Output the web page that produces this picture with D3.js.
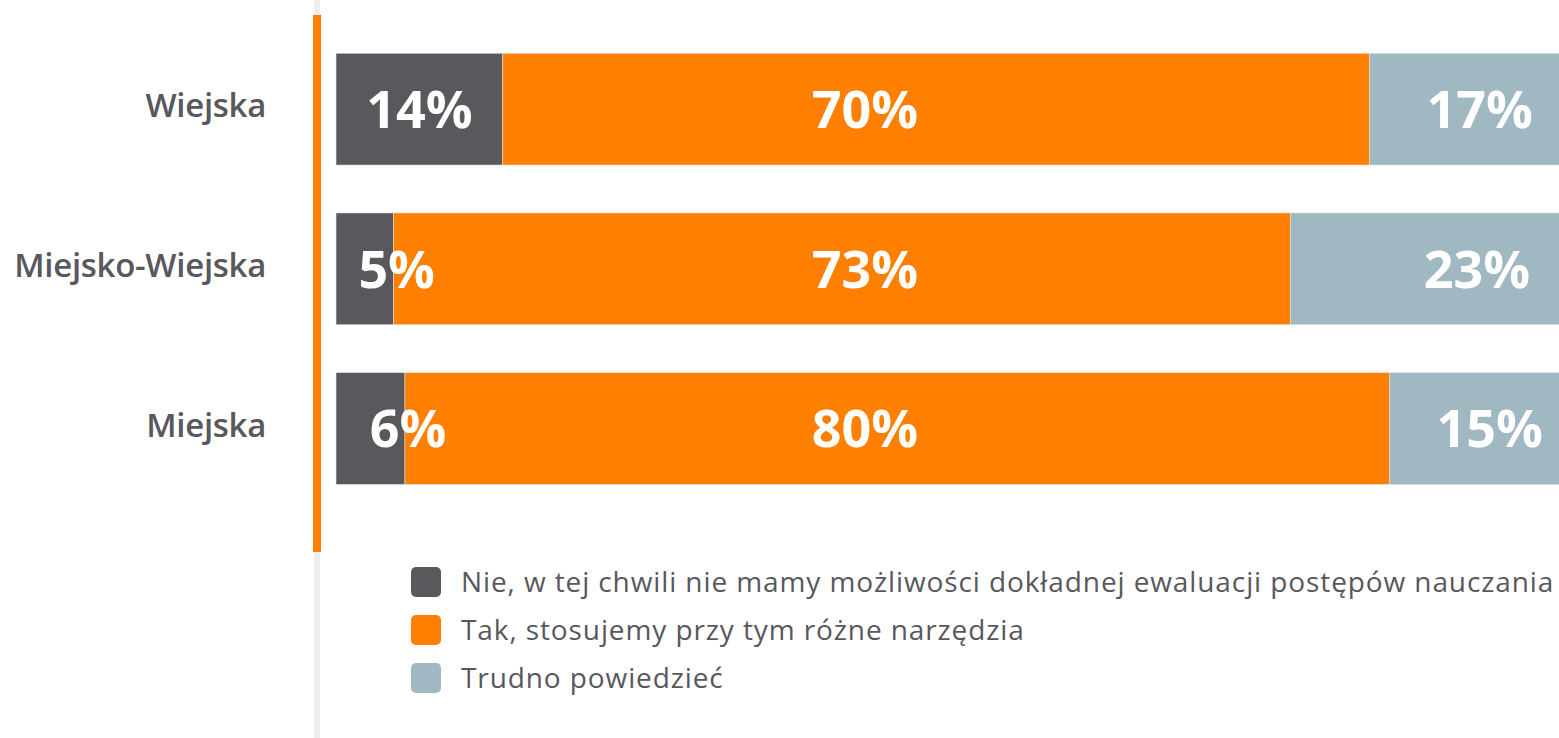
<!DOCTYPE html>
<html>
<head>
<meta charset="utf-8">
<script src="https://cdn.jsdelivr.net/npm/d3@7"></script>
<style>
  html, body { margin: 0; padding: 0; background: #fff; overflow: hidden; }
  svg { display: block; font-family: "Open Sans", "Noto Sans", sans-serif; }
</style>
</head>
<body>
<script>
// categories (top to bottom)
const categories = ["Wiejska", "Miejsko-Wiejska", "Miejska"];

// series keys + legend labels
const keys = ["nie", "tak", "trudno"];
const legendLabels = [
  "Nie, w tej chwili nie mamy możliwości dokładnej ewaluacji postępów nauczania",
  "Tak, stosujemy przy tym różne narzędzia",
  "Trudno powiedzieć"
];
const colors = ["#58585d", "#ff7f00", "#a0b8c1"];

// values (percent)
const nieValues    = [13.3, 4.6, 5.5];
const takValues    = [69.1, 71.5, 78.5];
const trudnoValues = [17.6, 23.9, 16.0];

// printed labels
const nieLabels    = ["14%", "5%", "6%"];
const takLabels    = ["70%", "73%", "80%"];
const trudnoLabels = ["17%", "23%", "15%"];

const width = 1559, height = 738;

const rows = categories.map((c, i) => ({
  category: c,
  nie: nieValues[i], tak: takValues[i], trudno: trudnoValues[i],
  labels: { nie: nieLabels[i], tak: takLabels[i], trudno: trudnoLabels[i] }
}));

const svg = d3.select("body").append("svg")
  .attr("width", width)
  .attr("height", height);

const x = d3.scaleLinear().domain([0, 100]).range([336, 1590]);
const y = d3.scaleBand().domain(categories).range([29.3, 508.4])
  .paddingInner(0.3).paddingOuter(0.15);
const color = d3.scaleOrdinal().domain(keys).range(colors);

// axis rule: light gray track + orange part next to the bars
svg.append("rect")
  .attr("x", 314).attr("y", 0)
  .attr("width", 6).attr("height", height)
  .attr("fill", "#ededed");
svg.append("rect")
  .attr("x", 313).attr("y", 15)
  .attr("width", 8).attr("height", 537)
  .attr("fill", "#ff7f00");

const stacked = d3.stack().keys(keys)(rows);

const layers = svg.append("g").classed("bars", true)
  .selectAll("g")
  .data(stacked)
  .enter().append("g")
  .attr("fill", d => color(d.key));

layers.selectAll("rect")
  .data(d => d)
  .enter().append("rect")
  .attr("x", d => x(d[0]))
  .attr("y", d => y(d.data.category))
  .attr("width", d => x(d[1]) - x(d[0]))
  .attr("height", y.bandwidth())
  .attr("stroke", "#e4e4e4")
  .attr("stroke-width", 0.6);

// category labels
svg.append("g").classed("cats", true)
  .selectAll("text")
  .data(categories)
  .enter().append("text")
  .attr("x", 266)
  .attr("y", d => y(d) + y.bandwidth() / 2 + 8)
  .attr("text-anchor", "end")
  .attr("fill", "#58585d")
  .attr("font-size", 33)
  .attr("font-weight", 600)
  .attr("letter-spacing", -0.3)
  .text(d => d);

// value labels
const labelG = svg.append("g").classed("values", true);
stacked.forEach(layer => {
  labelG.selectAll("text." + layer.key)
    .data(layer)
    .enter().append("text")
    .classed(layer.key, true)
    .attr("y", d => y(d.data.category) + y.bandwidth() / 2)
    .attr("dy", "0.36em")
    .attr("text-anchor", "middle")
    .attr("fill", "#fff")
    .attr("font-size", 52)
    .attr("font-weight", 700)
    .text(d => d.data.labels[layer.key])
    .attr("x", function (d) {
      const x0 = x(d[0]), x1 = x(d[1]);
      const mid = (x0 + x1) / 2;
      if (layer.key === "nie") {
        const w = this.getComputedTextLength();
        return (x1 - x0) > w + 10 ? mid : x1 + 3;
      }
      if (layer.key === "tak") return 865;
      return Math.max(mid, 1477);
    });
});

// legend
const legend = svg.append("g").classed("legend", true)
  .selectAll("g")
  .data(legendLabels)
  .enter().append("g")
  .attr("transform", (d, i) => "translate(411," + (567 + i * 48) + ")");

legend.append("rect")
  .attr("width", 30).attr("height", 30)
  .attr("rx", 5)
  .attr("fill", (d, i) => colors[i]);

legend.append("text")
  .attr("x", 50)
  .attr("y", 25)
  .attr("fill", "#58585d")
  .attr("font-size", 28)
  .attr("letter-spacing", 0.9)
  .text(d => d);
</script>
</body>
</html>
